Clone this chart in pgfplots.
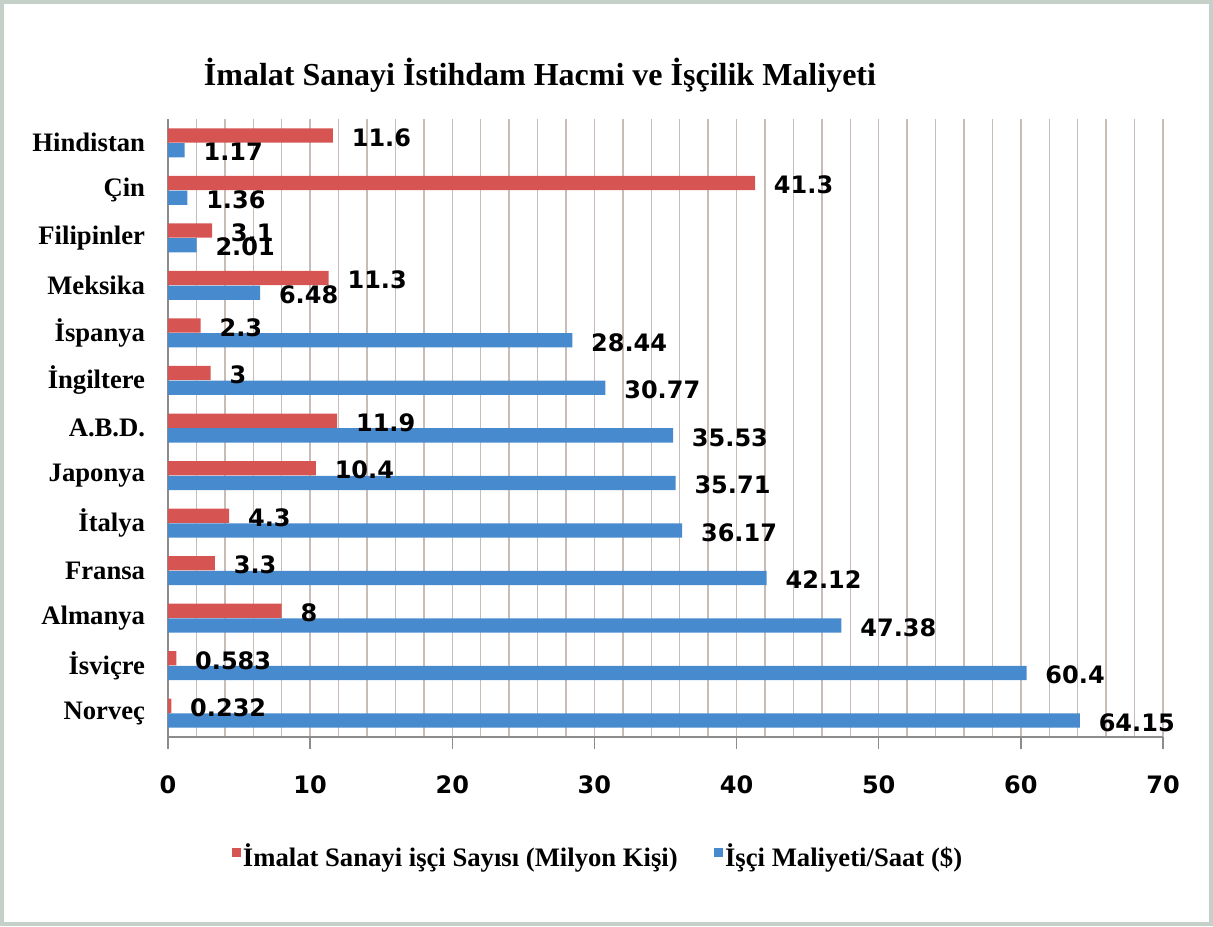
\documentclass[border=0pt]{standalone}
\usepackage{fontspec}
\setmainfont{Liberation Serif}
\newfontfamily\numfont{DejaVu Sans}
\usepackage{pgfplots}
\pgfplotsset{compat=1.18}
\definecolor{barred}{RGB}{214,84,82}
\definecolor{barblue}{RGB}{72,138,206}
\definecolor{gridc}{RGB}{200,188,182}
\definecolor{framec}{RGB}{196,208,200}
\definecolor{axisc}{RGB}{140,140,140}
\begin{document}
\begin{tikzpicture}
\begin{axis}[
  at={(0pt,0pt)}, anchor=south west,
  scale only axis, width=746.25pt, height=463.5pt,
  xbar, clip=false,
  xmin=0, xmax=70, ymin=-0.5, ymax=12.5,
  axis lines*=left,
  axis line style={axisc, line width=1pt},
  tick align=outside,
  major tick length=9pt, minor tick length=4.5pt,
  xtick={0,10,...,70},
  minor xtick={2,4,...,68},
  minor x tick style={draw=none},
  xtick style={axisc, line width=1pt},
  xmajorgrids, xminorgrids,
  major x grid style={gridc, line width=1pt},
  minor x grid style={gridc, line width=1pt},
  ytick={0,...,12},
  ytick style={draw=none},
  minor ytick={-0.5,0.5,...,12.5},
  minor y tick style={axisc, line width=1pt},
  yticklabels={Norveç,İsviçre,Almanya,Fransa,İtalya,Japonya,A.B.D.,İngiltere,İspanya,Meksika,Filipinler,Çin,Hindistan},
  yticklabel style={font=\bfseries\fontsize{20}{24}\selectfont, inner sep=0pt, anchor=east, xshift=-8pt},
  /pgf/number format/assume math mode=true,
  xticklabel style={font=\numfont\bfseries\fontsize{18}{22}\selectfont, inner sep=0pt, anchor=north, yshift=-20pt},
  bar width=0.3,
  point meta=explicit symbolic,
  nodes near coords,
  every node near coord/.append style={font=\numfont\bfseries\fontsize{18}{22}\selectfont, text=black, inner sep=0pt, anchor=west, xshift=14pt, yshift=-1.5pt},
  legend columns=2,
  legend style={draw=none, fill=none, at={(0.0603,-0.1926)}, anchor=west,
    font=\bfseries\fontsize{20}{24}\selectfont,
    /tikz/every even column/.append style={column sep=26pt},
    nodes={inner sep=1.5pt}},
  legend image code/.code={\fill[#1] (0pt,-0.5pt) rectangle (6.5pt,6pt);},
]
\addplot[draw=none, fill=barred, bar shift=0.155] coordinates {
 (0.232,0) [0.232] (0.583,1) [0.583] (8,2) [8] (3.3,3) [3.3] (4.3,4) [4.3]
 (10.4,5) [10.4] (11.9,6) [11.9] (3,7) [3] (2.3,8) [2.3] (11.3,9) [11.3]
 (3.1,10) [3.1] (41.3,11) [41.3] (11.6,12) [11.6]};
\addplot[draw=none, fill=barblue, bar shift=-0.155] coordinates {
 (64.15,0) [64.15] (60.4,1) [60.4] (47.38,2) [47.38] (42.12,3) [42.12] (36.17,4) [36.17]
 (35.71,5) [35.71] (35.53,6) [35.53] (30.77,7) [30.77] (28.44,8) [28.44] (6.48,9) [6.48]
 (2.01,10) [2.01] (1.36,11) [1.36] (1.17,12) [1.17]};
\legend{İmalat Sanayi işçi Sayısı (Milyon Kişi), İşçi Maliyeti/Saat (\$)}
\end{axis}
\node[anchor=base, font=\bfseries\fontsize{24}{28}\selectfont] at (279pt,488.5pt) {İmalat Sanayi İstihdam Hacmi ve İşçilik Maliyeti};
\draw[framec, line width=3pt] (-124.5pt,-140.25pt) rectangle (782.25pt,551.25pt);
\end{tikzpicture}
\end{document}
